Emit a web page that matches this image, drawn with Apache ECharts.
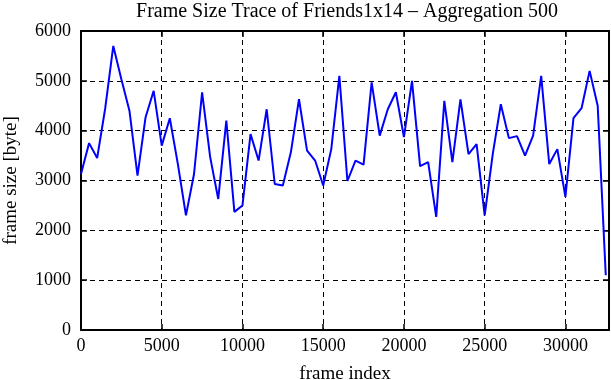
<!DOCTYPE html>
<html>
<head>
<meta charset="utf-8">
<script src="https://cdn.jsdelivr.net/npm/echarts@6/dist/echarts.min.js"></script>
<style>
  html, body { margin: 0; padding: 0; background: #fff; }
  #chart { width: 611px; height: 380px; }
</style>
</head>
<body>
<div id="chart"></div>
<script>
// frame index (aggregation step 500) and aggregated frame size in bytes
var frameIndex = [];
for (var i = 0; i <= 32500; i += 500) frameIndex.push(i);

var frameSize = [
    3130, 3750, 3450, 4450, 5700, 5030, 4400, 3100, 4270, 4800,
    3700, 4250, 3330, 2300, 3130, 4770, 3470, 2630, 4200, 2370,
    2500, 3930, 3400, 4430, 2930, 2900, 3570, 4630, 3600, 3400,
    2900, 3630, 5100, 2990, 3400, 3320, 4970, 3900, 4430, 4770,
    3870, 5000, 3290, 3370, 2270, 4600, 3370, 4630, 3530, 3730,
    2300, 3530, 4530, 3850, 3890, 3500, 3900, 5100, 3330, 3630,
    2670, 4250, 4450, 5200, 4500, 1100
];

var titleText = "Frame Size Trace of Friends1x14 \u2013 Aggregation 500";
var xName = "frame index";
var yName = "frame size [byte]";

var points = frameIndex.map(function(x, k) {
    return [x, frameSize[k]];
});

var font = "'Liberation Serif', 'DejaVu Serif', serif";
var black = "#000";
var plain = function(v) { return String(v); };

var chart = echarts.init(document.getElementById("chart"), null, { renderer: "canvas" });

var xBase = {
    type: "value",
    min: 0,
    max: 32700,
    interval: 5000,
    axisLine: { show: true, onZero: false, lineStyle: { color: black, width: 2 } },
    axisTick: { show: true, inside: true, length: 6, lineStyle: { color: black, width: 1.5 } }
};
var yBase = {
    type: "value",
    min: 0,
    max: 6000,
    interval: 1000,
    axisLine: { show: true, onZero: false, lineStyle: { color: black, width: 2 } },
    axisTick: { show: true, inside: true, length: 6, lineStyle: { color: black, width: 1.5 } }
};

var option = {
    animation: false,
    backgroundColor: "#fff",
    title: {
        text: titleText,
        left: 342,
        top: -3,
        textAlign: "center",
        textStyle: { fontFamily: font, fontWeight: "normal", fontSize: 20, color: black }
    },
    grid: { left: 81, right: 2, top: 31, bottom: 50, containLabel: false, outerBoundsMode: "none" },
    xAxis: [
        Object.assign({}, xBase, {
            position: "bottom",
            name: xName,
            nameLocation: "middle",
            nameGap: 35,
            nameTextStyle: { fontFamily: font, fontSize: 19, color: black },
            axisLabel: { fontFamily: font, fontSize: 18, color: black, margin: 7, formatter: plain },
            splitLine: { show: true, lineStyle: { color: black, width: 1, type: [5, 4] } }
        }),
        Object.assign({}, xBase, {
            position: "top",
            axisLabel: { show: false },
            splitLine: { show: false }
        })
    ],
    yAxis: [
        Object.assign({}, yBase, {
            position: "left",
            name: yName,
            nameLocation: "middle",
            nameGap: 60,
            nameTextStyle: { fontFamily: font, fontSize: 19, color: black },
            axisLabel: { fontFamily: font, fontSize: 18, color: black, margin: 10, formatter: plain },
            splitLine: { show: true, lineStyle: { color: black, width: 1, type: [5, 4] } }
        }),
        Object.assign({}, yBase, {
            position: "right",
            axisLabel: { show: false },
            splitLine: { show: false }
        })
    ],
    series: [
        {
            type: "line",
            data: points,
            xAxisIndex: 0,
            yAxisIndex: 0,
            showSymbol: false,
            lineStyle: { color: "#0000ff", width: 2 },
            z: 3
        }
    ]
};

chart.setOption(option);
</script>
</body>
</html>
